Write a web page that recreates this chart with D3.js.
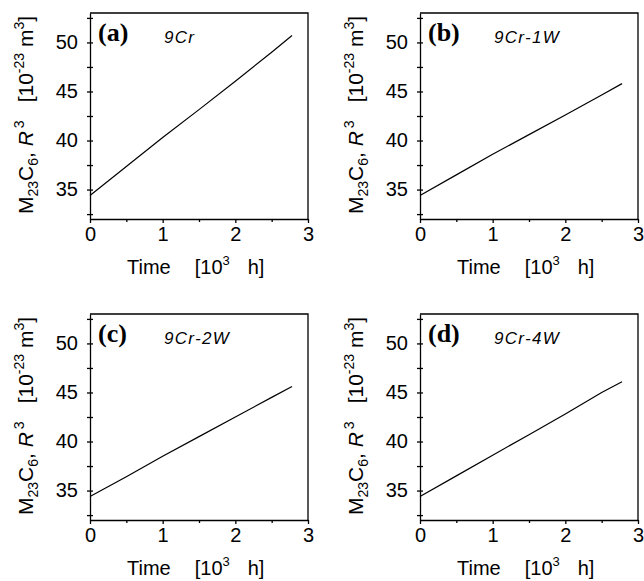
<!DOCTYPE html>
<html>
<head>
<meta charset="utf-8">
<script src="https://cdn.jsdelivr.net/npm/d3@7"></script>
<style>
body { margin: 0; background: #fff; }
svg { display: block; }
.tick text { font-family: "Liberation Sans", Arial, sans-serif; font-size: 20px; fill: #000; }
.domain, .tick line { stroke: #000; stroke-width: 1.3; }
.axis-title { font-family: "Liberation Sans", Arial, sans-serif; font-size: 20px; fill: #000; }
.panel-tag { font-family: "Liberation Serif", "Times New Roman", serif; font-weight: bold; font-size: 26px; fill: #000; }
.alloy { font-family: "Liberation Sans", Arial, sans-serif; font-style: italic; font-size: 17px; letter-spacing: 1.3px; fill: #000; }
</style>
</head>
<body>
<script>
//data
var panel_tags = ['(a)', '(b)', '(c)', '(d)'];
var alloys = ['9Cr', '9Cr-1W', '9Cr-2W', '9Cr-4W'];
var time_kh = [0, 0.5, 1, 1.5, 2, 2.5, 2.78];
var r3_9cr   = [34.4, 37.35, 40.3, 43.15, 46.05, 49.0, 50.7];
var r3_9cr1w = [34.4, 36.5, 38.6, 40.6, 42.6, 44.65, 45.8];
var r3_9cr2w = [34.4, 36.4, 38.5, 40.5, 42.5, 44.5, 45.6];
var r3_9cr4w = [34.4, 36.5, 38.6, 40.7, 42.8, 45.0, 46.1];
var series = [r3_9cr, r3_9cr1w, r3_9cr2w, r3_9cr4w];
var x_ticks = [0, 1, 2, 3];
var x_minor = [0.5, 1.5, 2.5];
var y_ticks = [35, 40, 45, 50];
var y_minor = [32.5, 37.5, 42.5, 47.5, 52.5];
var x_domain = [0, 3];
var y_domain = [32, 53];

//hardcoded layout
var svg_width = 644;
var svg_height = 581;
var graph_width = 218;
var graph_height = 206;
var col_x = [90, 420];
var row_y = [13, 314];

var svg = d3.select('body').append('svg')
    .attr('width', svg_width)
    .attr('height', svg_height);

var scale_x = d3.scaleLinear().domain(x_domain).range([0, graph_width]);
var scale_y = d3.scaleLinear().domain(y_domain).range([graph_height, 0]);

var line = d3.line()
    .x(function(d) { return scale_x(d[0]); })
    .y(function(d) { return scale_y(d[1]); });

for (var i = 0; i < series.length; i++) {
    var gx = col_x[i % 2];
    var gy = row_y[Math.floor(i / 2)];
    var graph = svg.append('g').attr('transform', 'translate(' + gx + ',' + gy + ')');

    //frame (top and right)
    graph.append('path')
        .attr('d', 'M0,0H' + graph_width + 'V' + graph_height)
        .attr('fill', 'none')
        .attr('stroke', '#000')
        .attr('stroke-width', 1.3);

    //x axis, major + minor
    graph.append('g')
        .attr('transform', 'translate(0,' + graph_height + ')')
        .call(d3.axisBottom(scale_x).tickValues(x_ticks).tickFormat(d3.format('d'))
            .tickSizeInner(4).tickSizeOuter(0).tickPadding(4));
    graph.append('g')
        .attr('transform', 'translate(0,' + graph_height + ')')
        .call(d3.axisBottom(scale_x).tickValues(x_minor).tickFormat('').tickSizeOuter(0).tickSize(3))
        .select('.domain').remove();

    //y axis, ticks cross the line
    var ya = graph.append('g')
        .call(d3.axisLeft(scale_y).tickValues(y_ticks).tickSizeInner(3).tickSizeOuter(0).tickPadding(9));
    ya.selectAll('.tick line').attr('x2', 3).attr('x1', -3);
    var ym = graph.append('g')
        .call(d3.axisLeft(scale_y).tickValues(y_minor).tickFormat('').tickSizeOuter(0).tickSize(3));
    ym.select('.domain').remove();
    ym.selectAll('.tick line').attr('x2', 3).attr('x1', -3);

    //curve
    var pts = d3.zip(time_kh, series[i]);
    graph.append('path')
        .datum(pts)
        .attr('d', line)
        .attr('fill', 'none')
        .attr('stroke', '#000')
        .attr('stroke-width', 1.2);

    //labels inside
    graph.append('text').classed('panel-tag', true)
        .attr('x', 8).attr('y', 28).text(panel_tags[i]);
    graph.append('text').classed('alloy', true)
        .attr('x', 74).attr('y', 30).text(alloys[i]);

    //x title
    var xt = graph.append('text').classed('axis-title', true)
        .attr('x', 37).attr('y', graph_height + 55);
    xt.append('tspan').text('Time');
    xt.append('tspan').attr('dx', 24).text('[10');
    xt.append('tspan').attr('dy', -9).style('font-size', '13px').text('3');
    xt.append('tspan').attr('dy', 9).attr('dx', 18).text('h]');

    //y title
    var yt = graph.append('text').classed('axis-title', true)
        .attr('text-anchor', 'middle')
        .style('font-size', '21px')
        .attr('transform', 'translate(-57,' + (graph_height / 2 - 1) + ') rotate(-90)');
    yt.append('tspan').text('M');
    yt.append('tspan').attr('dy', 5).style('font-size', '14px').text('23');
    yt.append('tspan').attr('dy', -5).text('C');
    yt.append('tspan').attr('dy', 5).style('font-size', '14px').text('6');
    yt.append('tspan').attr('dy', -5).text(', ');
    yt.append('tspan').style('font-style', 'italic').text('R');
    yt.append('tspan').attr('dy', -9).attr('dx', 3).style('font-size', '14px').text('3');
    yt.append('tspan').attr('dy', 9).attr('dx', 18).text('[10');
    yt.append('tspan').attr('dy', -9).style('font-size', '14px').text('-23');
    yt.append('tspan').attr('dy', 9).text(' m');
    yt.append('tspan').attr('dy', -9).style('font-size', '14px').text('3');
    yt.append('tspan').attr('dy', 9).text(']');
}
</script>
</body>
</html>
